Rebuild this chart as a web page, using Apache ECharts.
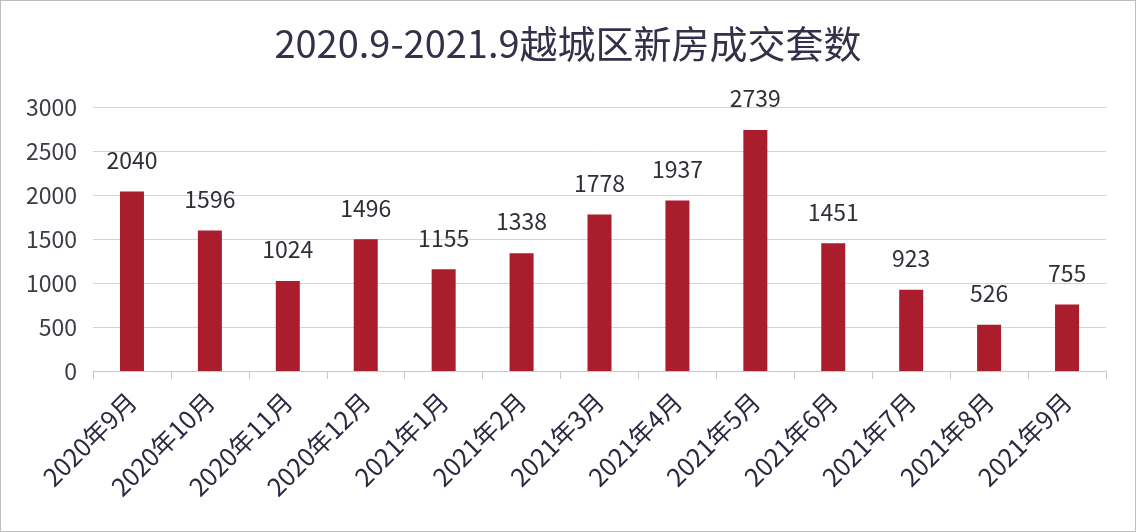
<!DOCTYPE html>
<html><head><meta charset="utf-8">
<script src="https://cdn.jsdelivr.net/npm/echarts@6/dist/echarts.min.js"></script>
<style>html,body{margin:0;padding:0;background:#fff}#c{width:1134px;height:530px;border:1px solid #bdbdbd}</style>
</head><body><div id="c"></div>
<script>
const categories = ['2020年9月','2020年10月','2020年11月','2020年12月','2021年1月','2021年2月','2021年3月','2021年4月','2021年5月','2021年6月','2021年7月','2021年8月','2021年9月'];
const values = [2040,1596,1024,1496,1155,1338,1778,1937,2739,1451,923,526,755];
const titleText = '2020.9-2021.9越城区新房成交套数';
const chart = echarts.init(document.getElementById('c'));
chart.setOption({
  animation:false,
  textStyle:{fontFamily:'"Noto Sans CJK SC","Noto Sans",sans-serif'},
  title:{text:titleText,left:'center',top:19,textStyle:{fontSize:38,fontWeight:'normal',color:'#352f4a',fontFamily:'"Noto Sans CJK SC","Noto Sans",sans-serif'}},
  grid:{left:92,right:29,top:106,bottom:160},
  xAxis:{type:'category',data:categories,
    axisLine:{lineStyle:{color:'#c8c8c8'}},
    axisTick:{show:true,alignWithLabel:false,length:8,lineStyle:{color:'#c8c8c8'}},
    axisLabel:{rotate:45,fontSize:25,color:'#2d2840',margin:26,interval:0}},
  yAxis:{type:'value',min:0,max:3000,interval:500,
    axisLine:{show:false},axisTick:{show:false},
    splitLine:{lineStyle:{color:'#d4d4d4'}},
    axisLabel:{fontSize:23,color:'#3c3c46',margin:16,formatter:function(v){return String(v);}}},
  series:[{type:'bar',data:values,barWidth:24,itemStyle:{color:'#aa1d2c'},
    label:{show:true,position:'top',distance:20,fontSize:23,color:'#2f2f38'}}]
});
</script></body></html>
